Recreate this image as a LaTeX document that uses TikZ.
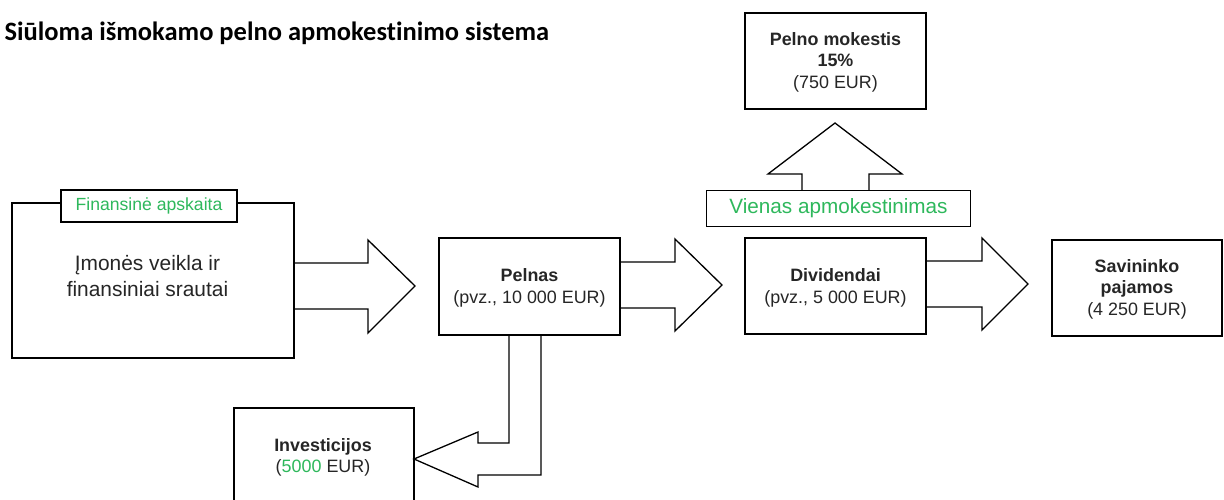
\documentclass[tikz,border=0pt]{standalone}
\usepackage{fontspec}
\setmainfont{Liberation Sans}
\newfontfamily\titlefont[Ligatures={NoCommon}]{Carlito}
\definecolor{grn}{HTML}{2EB85C}
\definecolor{dk}{HTML}{262626}
\begin{document}
\begin{tikzpicture}[x=1pt,y=-1pt,line width=1.3pt,line join=miter,
  box/.style={draw,rectangle,inner sep=0pt,fill=white},
  txt/.style={font=\fontsize{17.9}{21.5}\selectfont,align=center,inner sep=0pt,text=dk},
  big/.style={font=\fontsize{20.9}{25.5}\selectfont,align=center,inner sep=0pt,text=dk},
  blk/.style={draw}]
\useasboundingbox (0,0) rectangle (1224,500);
% title
\node[anchor=base west,inner sep=0pt,font=\titlefont\bfseries\fontsize{26.5}{31}\selectfont] (title) at (4,41) {Siūloma išmokamo pelno apmokestinimo sistema};
% left box
\node[box,minimum width=282pt,minimum height=155pt] (firm) at (153,280.5) {};
\node[box,minimum width=176pt,minimum height=32pt,font=\fontsize{17.6}{21}\selectfont,text=grn] (tab) at (149,206) {Finansinė apskaita};
\node[big] (firmtxt) at (147.5,276) {Įmonės veikla ir\\finansiniai srautai};
% Pelnas
\node[box,minimum width=181pt,minimum height=97pt] (pelnas) at (529.5,286.5) {};
\node[txt] (pelnastxt) at (529.5,288) {\textbf{Pelnas}\\(pvz., 10 000 EUR)};
% Dividendai
\node[box,minimum width=181pt,minimum height=96pt] (div) at (835.5,286) {};
\node[txt] (divtxt) at (835.5,288) {\textbf{Dividendai}\\(pvz., 5 000 EUR)};
% Savininko
\node[box,minimum width=170pt,minimum height=96pt] (sav) at (1137,288) {};
\node[txt] (savtxt) at (1137,289) {\textbf{Savininko}\\\textbf{pajamos}\\(4 250 EUR)};
% Pelno mokestis
\node[box,minimum width=181pt,minimum height=96pt] (tax) at (835.5,61) {};
\node[txt] (taxtxt) at (835.5,62) {\textbf{Pelno mokestis}\\\textbf{15\%}\\(750 EUR)};
% Vienas apmokestinimas
\node[box,minimum width=264pt,minimum height=36pt,font=\fontsize{20.7}{25}\selectfont,text=grn] (once) at (838.5,208.5) {Vienas apmokestinimas};
% Investicijos
\node[box,minimum width=180pt,minimum height=110pt] (inv) at (324,463) {};
\node[txt] (invtxt) at (323,457.5) {\textbf{Investicijos}\\(\textcolor{grn}{5000} EUR)};
% block arrows
\draw[blk] (firm.east |- 0,263) -- (368,263) -- (368,240) -- (415,286) -- (368,333) -- (368,309) -- (firm.east |- 0,309);
\draw[blk] (pelnas.east |- 0,262) -- (675,262) -- (675,239) -- (722,285) -- (675,331) -- (675,308) -- (pelnas.east |- 0,308);
\draw[blk] (div.east |- 0,261) -- (982,261) -- (982,238) -- (1028,284) -- (982,330) -- (982,307) -- (div.east |- 0,307);
\draw[blk] (802,0 |- once.north) -- (802,174) -- (768,174) -- (835,123) -- (902,174) -- (869,174) -- (869,0 |- once.north);
\draw[blk] (509,0 |- pelnas.south) -- (509,443) -- (478,443) -- (478,432) -- (414,459) -- (478,487) -- (478,475) -- (541,475) -- (541,0 |- pelnas.south);
\end{tikzpicture}
\end{document}
